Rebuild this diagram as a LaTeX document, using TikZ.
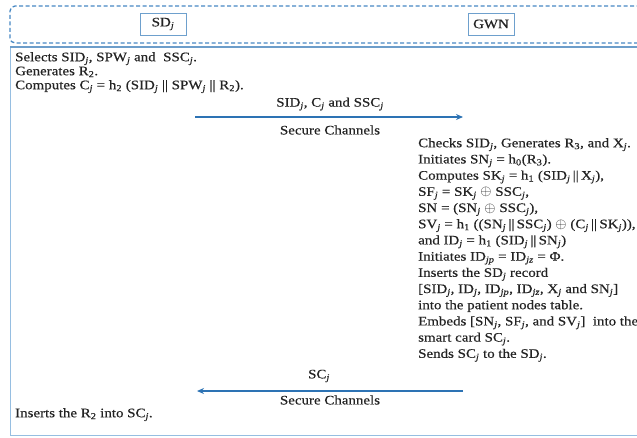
\documentclass[tikz,border=0pt]{standalone}
\usepackage{fontspec}
\setmainfont{Liberation Serif}[FakeStretch=1.15,FakeBold=0.4]
\usetikzlibrary{arrows.meta}
\definecolor{dashblue}{RGB}{70,135,195}
\definecolor{boxblue}{RGB}{110,160,205}
\definecolor{frameblue}{RGB}{150,190,225}
\definecolor{arrowblue}{RGB}{45,115,180}
\definecolor{inkgrey}{RGB}{35,35,35}
\newcommand{\sj}{\textsubscript{\textit{j}}}
\newcommand{\subn}[1]{\textsubscript{#1}}
\newcommand{\cc}{\hspace{0.18em}\textbar\textbar\hspace{0.18em}}
\newcommand{\xor}{{\fontsize{14}{14}\selectfont$\oplus$}}
\tikzset{
  txt/.style={inner sep=0pt, align=left, text=inkgrey, font=\fontsize{13}{14}\selectfont},
  txtwide/.style={inner sep=0pt, align=left, text=inkgrey, font=\fontsize{13}{16.2}\selectfont},
  lbl/.style={inner sep=0pt, text=inkgrey, font=\fontsize{13}{14}\selectfont},
  entity/.style={draw=boxblue, line width=0.9pt, minimum width=46pt, minimum height=22pt, inner sep=2pt, text=inkgrey, font=\fontsize{13}{14}\selectfont},
  msg/.style={draw=arrowblue, line width=1.6pt, -{Stealth[length=7pt,width=6pt]}}
}
\begin{document}
\begin{tikzpicture}[x=1pt,y=-1pt]
\useasboundingbox (0,0) rectangle (637,437);
% header
\draw[dashblue, dashed, dash pattern=on 4pt off 2.5pt, line width=1.3pt, rounded corners=5pt] (660,6) -- (10,6) -- (10,43) -- (660,43);
\node[entity] (sd) at (163,24) {SD\sj};
\node[entity] (gwn) at (491,24) {GWN};
% frame
\draw[frameblue, line width=1pt] (660,435) -- (10,435) -- (10,47) -- (660,47);
\draw[arrowblue!70, line width=1.2pt] (10,47) -- (660,47);
% left text
\node[txt, anchor=north west] (left1) at (15,52) {Selects SID\sj, SPW\sj\ and\ \ SSC\sj.\\
Generates R\subn{2}.\\
Computes C\sj\ = h\subn{2} (SID\sj\ \textbar\textbar\ SPW\sj\ \textbar\textbar\ R\subn{2}).};
% arrow 1
\coordinate (a1s) at (195,117);
\coordinate (a1e) at (463,117);
\draw[msg] (a1s) -- (a1e);
\node[lbl] (m1) at (330,104) {SID\sj, C\sj\ and SSC\sj};
\node[lbl] (c1) at (330,130) {Secure Channels};
% right text
\node[txtwide, anchor=north west] (right) at (418,138) {Checks SID\sj, Generates R\subn{3}, and X\sj.\\
Initiates SN\sj\ = h\subn{0}(R\subn{3}).\\
Computes SK\sj\ = h\subn{1} (SID\sj\cc X\sj),\\
SF\sj\ = SK\sj\ \xor\ SSC\sj,\\
SN = (SN\sj\ \xor\ SSC\sj),\\
SV\sj\ = h\subn{1} ((SN\sj\cc SSC\sj) \xor\ (C\sj\cc SK\sj)),\\
and ID\sj\ = h\subn{1} (SID\sj\cc SN\sj)\\
Initiates ID\textsubscript{\textit{jp}} = ID\textsubscript{\textit{jz}} = Φ.\\
Inserts the SD\sj\ record\\
{[}SID\sj, ID\sj, ID\textsubscript{\textit{jp}}, ID\textsubscript{\textit{jz}}, X\sj\ and SN\sj{]}\\
into the patient nodes table.\\
Embeds {[}SN\sj, SF\sj, and SV\sj{]}\ \ into the\\
smart card SC\sj.\\
Sends SC\sj\ to the SD\sj.};
% arrow 2
\coordinate (a2s) at (463,391);
\coordinate (a2e) at (197,391);
\draw[msg] (a2s) -- (a2e);
\node[lbl] (m2) at (319,376) {SC\sj};
\node[lbl] (c2) at (330,400) {Secure Channels};
\node[txt, anchor=north west] (left2) at (15,408) {Inserts the R\subn{2} into SC\sj.};
\end{tikzpicture}
\end{document}
